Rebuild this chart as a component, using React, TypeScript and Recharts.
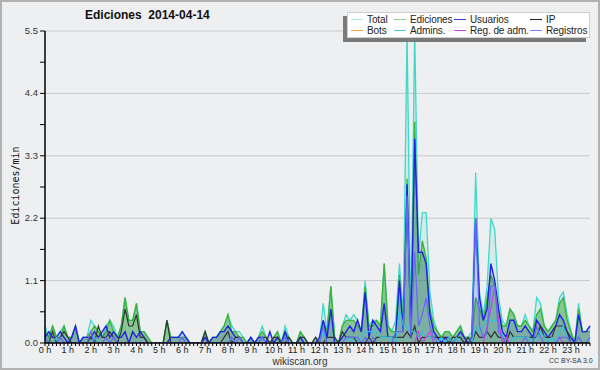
import { ComposedChart, Area, Line, XAxis, YAxis, CartesianGrid } from 'recharts';

// 10-minute slots, 144 per day
const HOUR_LABELS = [
  '0 h', '1 h', '2 h', '3 h', '4 h', '5 h', '6 h', '7 h', '8 h', '9 h', '10 h', '11 h',
  '12 h', '13 h', '14 h', '15 h', '16 h', '17 h', '18 h', '19 h', '20 h', '21 h', '22 h', '23 h',
];
const Y_TICKS = [0, 0.55, 1.1, 1.65, 2.2, 2.75, 3.3, 3.85, 4.4, 4.95, 5.5];
const Y_GRID = [1.1, 2.2, 3.3, 4.4, 5.5];

const total = [
  0.3, 0.1, 0.3, 0.1, 0.2, 0.3,
  0.1, 0.1, 0.3, 0.0, 0.1, 0.1,
  0.4, 0.3, 0.2, 0.1, 0.3, 0.4,
  0.3, 0.1, 0.3, 0.8, 0.4, 0.4,
  0.7, 0.2, 0.2, 0.1, 0.0, 0.0,
  0.0, 0.0, 0.4, 0.1, 0.1, 0.1,
  0.2, 0.1, 0.0, 0.0, 0.0, 0.0,
  0.2, 0.0, 0.1, 0.1, 0.2, 0.3,
  0.5, 0.3, 0.2, 0.2, 0.1, 0.0,
  0.1, 0.0, 0.1, 0.3, 0.1, 0.0,
  0.1, 0.2, 0.0, 0.3, 0.1, 0.0,
  0.0, 0.2, 0.1, 0.0, 0.0, 0.1,
  0.0, 0.7, 0.2, 1.0, 0.1, 0.0,
  0.3, 0.5, 0.4, 0.5, 0.4, 0.2,
  1.1, 0.3, 0.4, 0.4, 0.3, 1.4,
  0.3, 0.2, 0.4, 1.4, 0.5, 5.5,
  0.3, 5.5, 1.5, 2.3, 2.3, 0.9,
  0.4, 0.2, 0.1, 0.2, 0.2, 0.1,
  0.2, 0.3, 0.1, 0.1, 0.2, 3.0,
  0.9, 0.5, 1.0, 2.2, 2.0, 0.8,
  0.4, 0.3, 0.6, 0.5, 0.3, 0.3,
  0.5, 0.3, 0.2, 0.8, 0.7, 0.3,
  0.2, 0.3, 0.4, 0.8, 0.9, 0.5,
  0.2, 0.0, 0.7, 0.2, 0.2, 0.3,
];

const ediciones = [
  0.2, 0.1, 0.3, 0.1, 0.1, 0.3,
  0.1, 0.1, 0.3, 0.0, 0.1, 0.1,
  0.2, 0.3, 0.2, 0.1, 0.2, 0.4,
  0.2, 0.1, 0.3, 0.8, 0.4, 0.4,
  0.7, 0.2, 0.2, 0.1, 0.0, 0.0,
  0.0, 0.0, 0.4, 0.1, 0.1, 0.1,
  0.1, 0.1, 0.0, 0.0, 0.0, 0.0,
  0.2, 0.0, 0.1, 0.1, 0.2, 0.3,
  0.5, 0.2, 0.2, 0.1, 0.1, 0.0,
  0.1, 0.0, 0.1, 0.2, 0.1, 0.0,
  0.1, 0.2, 0.0, 0.2, 0.1, 0.0,
  0.0, 0.2, 0.1, 0.0, 0.0, 0.1,
  0.0, 0.4, 0.2, 1.0, 0.1, 0.0,
  0.3, 0.4, 0.4, 0.4, 0.3, 0.2,
  1.0, 0.3, 0.3, 0.4, 0.3, 1.4,
  0.3, 0.2, 0.2, 1.2, 0.3, 2.9,
  0.2, 3.9, 1.2, 1.8, 1.5, 0.6,
  0.3, 0.2, 0.1, 0.2, 0.2, 0.1,
  0.2, 0.3, 0.1, 0.1, 0.1, 0.8,
  0.6, 0.4, 0.8, 1.2, 1.0, 0.6,
  0.3, 0.3, 0.6, 0.5, 0.3, 0.3,
  0.4, 0.3, 0.2, 0.5, 0.6, 0.3,
  0.2, 0.3, 0.4, 0.7, 0.8, 0.4,
  0.2, 0.0, 0.6, 0.2, 0.2, 0.2,
];

const usuarios = [
  0.1, 0.2, 0.1, 0.1, 0.2, 0.1,
  0.0, 0.1, 0.3, 0.0, 0.1, 0.1,
  0.1, 0.2, 0.1, 0.2, 0.3, 0.1,
  0.2, 0.1, 0.1, 0.2, 0.0, 0.2,
  0.1, 0.2, 0.1, 0.0, 0.0, 0.0,
  0.0, 0.0, 0.0, 0.1, 0.1, 0.1,
  0.2, 0.1, 0.0, 0.0, 0.0, 0.0,
  0.1, 0.0, 0.1, 0.1, 0.2, 0.2,
  0.3, 0.2, 0.1, 0.1, 0.0, 0.0,
  0.1, 0.0, 0.1, 0.1, 0.0, 0.2,
  0.0, 0.1, 0.0, 0.2, 0.0, 0.0,
  0.0, 0.1, 0.0, 0.0, 0.0, 0.0,
  0.1, 0.4, 0.1, 0.6, 0.0, 0.0,
  0.1, 0.2, 0.3, 0.2, 0.4, 0.2,
  0.9, 0.1, 0.4, 0.3, 0.2, 0.7,
  0.1, 0.1, 0.1, 1.1, 0.2, 2.8,
  0.1, 3.6, 1.6, 1.6, 1.4, 0.5,
  0.2, 0.1, 0.0, 0.1, 0.1, 0.0,
  0.1, 0.2, 0.1, 0.0, 0.1, 2.2,
  0.8, 0.4, 0.6, 1.4, 1.1, 0.6,
  0.2, 0.1, 0.4, 0.4, 0.2, 0.2,
  0.3, 0.2, 0.1, 0.4, 0.3, 0.2,
  0.1, 0.2, 0.3, 0.5, 0.4, 0.2,
  0.1, 0.0, 0.5, 0.2, 0.2, 0.3,
];

const ip = [
  0.0, 0.0, 0.2, 0.0, 0.1, 0.2,
  0.1, 0.0, 0.0, 0.0, 0.0, 0.0,
  0.1, 0.0, 0.3, 0.1, 0.1, 0.2,
  0.1, 0.0, 0.2, 0.6, 0.3, 0.3,
  0.5, 0.1, 0.1, 0.0, 0.0, 0.0,
  0.0, 0.0, 0.4, 0.0, 0.0, 0.0,
  0.0, 0.0, 0.0, 0.0, 0.0, 0.0,
  0.2, 0.0, 0.0, 0.0, 0.0, 0.1,
  0.2, 0.0, 0.1, 0.1, 0.0, 0.0,
  0.0, 0.0, 0.0, 0.1, 0.1, 0.0,
  0.1, 0.1, 0.0, 0.0, 0.1, 0.0,
  0.0, 0.1, 0.1, 0.0, 0.0, 0.1,
  0.0, 0.0, 0.1, 0.1, 0.1, 0.0,
  0.2, 0.1, 0.1, 0.1, 0.0, 0.0,
  0.0, 0.1, 0.0, 0.1, 0.1, 0.1,
  0.1, 0.1, 0.1, 0.1, 0.1, 0.2,
  0.1, 0.3, 0.0, 0.1, 0.1, 0.1,
  0.1, 0.1, 0.1, 0.1, 0.0, 0.1,
  0.1, 0.1, 0.0, 0.1, 0.0, 0.2,
  0.1, 0.1, 0.2, 0.1, 0.2, 0.1,
  0.1, 0.0, 0.2, 0.1, 0.1, 0.1,
  0.1, 0.1, 0.1, 0.1, 0.3, 0.1,
  0.1, 0.1, 0.3, 0.3, 0.3, 0.2,
  0.0, 0.0, 0.1, 0.0, 0.0, 0.0,
];

const bots = [
  0, 0, 0, 0, 0, 0, 0, 0, 0, 0, 0, 0, 0, 0, 0, 0, 0, 0, 0, 0, 0, 0, 0, 0,
  0, 0, 0, 0, 0, 0, 0, 0, 0, 0, 0, 0, 0, 0, 0, 0, 0, 0, 0, 0, 0, 0, 0, 0,
  0, 0, 0, 0, 0, 0, 0, 0, 0, 0, 0, 0, 0, 0, 0, 0, 0, 0, 0, 0, 0, 0, 0, 0,
  0, 0, 0, 0, 0, 0, 0, 0, 0, 0, 0, 0, 0, 0, 0, 0, 0, 0, 0, 0, 0, 0, 0, 0,
  0, 0, 0, 0, 0, 0, 0, 0, 0, 0, 0, 0, 0, 0, 0, 0, 0, 0, 0, 0, 0, 0, 0, 0,
  0, 0, 0, 0, 0, 0, 0, 0, 0, 0, 0, 0, 0, 0, 0, 0, 0, 0, 0, 0, 0, 0, 0, 0,
];

const admins = [
  0.1, 0.0, 0.0, 0.1, 0.0, 0.0,
  0.0, 0.0, 0.0, 0.0, 0.0, 0.0,
  0.0, 0.1, 0.0, 0.0, 0.0, 0.0,
  0.0, 0.0, 0.0, 0.0, 0.0, 0.0,
  0.0, 0.0, 0.0, 0.0, 0.0, 0.0,
  0.0, 0.0, 0.0, 0.0, 0.0, 0.0,
  0.0, 0.0, 0.0, 0.0, 0.0, 0.0,
  0.0, 0.0, 0.0, 0.0, 0.0, 0.0,
  0.0, 0.1, 0.0, 0.0, 0.0, 0.0,
  0.0, 0.0, 0.0, 0.1, 0.0, 0.0,
  0.0, 0.0, 0.0, 0.1, 0.0, 0.0,
  0.0, 0.0, 0.0, 0.0, 0.0, 0.0,
  0.0, 0.2, 0.0, 0.0, 0.0, 0.0,
  0.0, 0.0, 0.1, 0.0, 0.0, 0.1,
  0.2, 0.2, 0.2, 0.2, 0.1, 0.1,
  0.1, 0.1, 0.0, 0.6, 0.3, 0.3,
  0.2, 0.2, 0.1, 0.2, 0.1, 0.1,
  0.1, 0.0, 0.1, 0.0, 0.1, 0.0,
  0.1, 0.0, 0.0, 0.0, 0.0, 0.3,
  0.2, 0.3, 0.4, 0.4, 0.4, 0.4,
  0.1, 0.0, 0.0, 0.1, 0.1, 0.1,
  0.1, 0.1, 0.0, 0.1, 0.2, 0.1,
  0.0, 0.1, 0.0, 0.2, 0.3, 0.1,
  0.0, 0.0, 0.1, 0.0, 0.0, 0.1,
];

const regAdm = [
  0, 0, 0, 0, 0, 0, 0, 0, 0, 0, 0, 0, 0, 0, 0, 0, 0, 0, 0, 0, 0, 0, 0, 0,
  0, 0, 0, 0, 0, 0, 0, 0, 0, 0, 0, 0, 0, 0, 0, 0, 0, 0, 0, 0, 0, 0, 0, 0,
  0, 0, 0, 0, 0, 0, 0, 0, 0, 0, 0, 0, 0, 0, 0, 0, 0, 0, 0, 0, 0, 0, 0, 0,
  0, 0, 0, 0, 0, 0, 0, 0, 0, 0, 0, 0, 0, 0, 0, 0, 0, 0, 0, 0, 0, 0, 0, 0,
  0, 0, 0.2, 0, 0.1, 0.2, 0, 0, 0, 0, 0, 0, 0, 0, 0, 0, 0, 0, 0, 0, 0.3, 0.6, 1.0, 0.4,
  0, 0.1, 0, 0, 0, 0, 0, 0, 0, 0, 0, 0, 0, 0, 0, 0.1, 0, 0, 0, 0, 0, 0, 0, 0,
];

const registros = [
  0.1, 0.0, 0.0, 0.0, 0.1, 0.0,
  0.0, 0.0, 0.0, 0.0, 0.0, 0.0,
  0.2, 0.0, 0.0, 0.0, 0.1, 0.0,
  0.1, 0.0, 0.0, 0.0, 0.0, 0.0,
  0.0, 0.0, 0.0, 0.0, 0.0, 0.0,
  0.0, 0.0, 0.0, 0.0, 0.0, 0.0,
  0.1, 0.0, 0.0, 0.0, 0.0, 0.0,
  0.0, 0.0, 0.0, 0.0, 0.0, 0.0,
  0.0, 0.1, 0.0, 0.1, 0.0, 0.0,
  0.0, 0.0, 0.0, 0.1, 0.0, 0.0,
  0.0, 0.0, 0.0, 0.1, 0.0, 0.0,
  0.0, 0.0, 0.0, 0.0, 0.0, 0.0,
  0.0, 0.3, 0.0, 0.0, 0.0, 0.0,
  0.0, 0.1, 0.1, 0.1, 0.1, 0.0,
  0.1, 0.0, 0.1, 0.0, 0.0, 0.0,
  0.0, 0.0, 0.2, 0.2, 0.2, 2.6,
  0.1, 1.6, 0.3, 0.5, 0.8, 0.3,
  0.1, 0.0, 0.0, 0.0, 0.0, 0.0,
  0.0, 0.0, 0.0, 0.0, 0.1, 2.2,
  0.3, 0.1, 0.2, 1.0, 1.0, 0.2,
  0.1, 0.0, 0.0, 0.0, 0.0, 0.0,
  0.1, 0.0, 0.0, 0.3, 0.1, 0.0,
  0.0, 0.0, 0.0, 0.1, 0.1, 0.1,
  0.0, 0.0, 0.1, 0.0, 0.0, 0.1,
];

const data = total.map((v, i) => ({
  slot: i,
  total: v,
  ediciones: ediciones[i],
  usuarios: usuarios[i],
  ip: ip[i],
  bots: bots[i],
  admins: admins[i],
  regAdm: regAdm[i],
  registros: registros[i],
}));

const X_TICKS = data.map((d) => d.slot);

const LEGEND = [
  { name: 'Total', color: '#a8e8e0', left: 3, top: 0 },
  { name: 'Ediciones', color: '#88d088', left: 46, top: 0 },
  { name: 'Usuarios', color: '#3a3ae0', left: 106, top: 0 },
  { name: 'IP', color: '#222222', left: 182, top: 0 },
  { name: 'Bots', color: '#f0a040', left: 3, top: 11 },
  { name: 'Admins.', color: '#40c8e0', left: 46, top: 11 },
  { name: 'Reg. de adm.', color: '#c844e0', left: 106, top: 11 },
  { name: 'Registros', color: '#8080f0', left: 182, top: 11 },
];

const FONT = '"Liberation Sans", Arial, sans-serif';

const XTick = (props: any) => {
  const { x, y, payload } = props;
  if (payload.value % 6 !== 0) return null;
  return (
    <text x={x} y={y} dy={6} textAnchor="middle" fontSize={9} fill="#222" fontFamily={FONT}>
      {HOUR_LABELS[payload.value / 6]}
    </text>
  );
};

const YTick = (props: any) => {
  const { x, y, payload } = props;
  const r = payload.value / 1.1;
  if (Math.abs(r - Math.round(r)) > 1e-6) return null;
  return (
    <text x={x} y={y} dy={3} textAnchor="end" fontSize={9.5} fill="#333" fontFamily={FONT}>
      {payload.value.toFixed(1)}
    </text>
  );
};

export default function App() {
  return (
    <div style={{ position: 'relative', width: 600, height: 370, background: '#eeeff1', fontFamily: FONT }}>
      <style>{'body{margin:0}'}</style>
      <ComposedChart width={600} height={370} data={data} margin={{ top: 31, right: 10, left: 0, bottom: 0 }}>
        <CartesianGrid horizontal vertical={false} stroke="#c9c9cc" horizontalValues={Y_GRID} />
        <Area type="linear" dataKey="total" stroke="#40d8c8" strokeWidth={1.3} fill="#40d8c8" fillOpacity={0.14} isAnimationActive={false} dot={false} />
        <Area type="linear" dataKey="ediciones" stroke="#38b438" strokeWidth={1.3} fill="#2a9a2a" fillOpacity={0.45} isAnimationActive={false} dot={false} />
        <Area type="linear" dataKey="usuarios" stroke="#2020e8" strokeWidth={1.4} fill="#3030f0" fillOpacity={0.15} isAnimationActive={false} dot={false} />
        <Line type="linear" dataKey="bots" stroke="#f0a040" strokeWidth={1} dot={false} isAnimationActive={false} />
        <Line type="linear" dataKey="ip" stroke="#333333" strokeWidth={1.2} dot={false} isAnimationActive={false} />
        <Line type="linear" dataKey="admins" stroke="#30c4e0" strokeWidth={1.2} dot={false} isAnimationActive={false} />
        <Line type="linear" dataKey="regAdm" stroke="#c844e0" strokeWidth={1.2} dot={false} isAnimationActive={false} />
        <Line type="linear" dataKey="registros" stroke="#6868f8" strokeWidth={1.2} dot={false} isAnimationActive={false} />
        <XAxis
          dataKey="slot"
          type="number"
          domain={[0, 143]}
          ticks={X_TICKS}
          interval={0}
          height={27}
          tick={<XTick />}
          tickSize={3}
          tickMargin={1}
          axisLine={{ stroke: '#000', strokeWidth: 1.5 }}
          tickLine={{ stroke: '#000', strokeWidth: 1 }}
        />
        <YAxis
          type="number"
          domain={[0, 5.5]}
          ticks={Y_TICKS}
          interval={0}
          allowDataOverflow
          width={45}
          tick={<YTick />}
          tickSize={5}
          tickMargin={2}
          axisLine={{ stroke: '#000', strokeWidth: 1.5 }}
          tickLine={{ stroke: '#000', strokeWidth: 1 }}
        />
      </ComposedChart>

      <div style={{ position: 'absolute', left: 85, top: 8, fontSize: 12, fontWeight: 'bold', color: '#111', whiteSpace: 'pre' }}>
        {'Ediciones  2014-04-14'}
      </div>

      <div
        style={{
          position: 'absolute', left: -30, top: 180, width: 90, textAlign: 'center',
          transform: 'rotate(-90deg)', fontFamily: '"DejaVu Sans Mono", monospace', fontSize: 10, color: '#111',
        }}
      >
        Ediciones/min
      </div>

      <div
        style={{
          position: 'absolute', left: 347, top: 12, width: 243, height: 26, background: '#fff',
          border: '1px solid #cfcfcf', boxShadow: '-4px 4px 0 #7a7a7a', boxSizing: 'border-box',
        }}
      >
        {LEGEND.map((it) => (
          <div key={it.name} style={{ position: 'absolute', left: it.left, top: it.top, display: 'flex', alignItems: 'center', height: 12 }}>
            <div style={{ width: 12, height: 1, background: it.color, marginRight: 4 }} />
            <span style={{ fontSize: 10, letterSpacing: -0.1, color: '#222', whiteSpace: 'nowrap' }}>{it.name}</span>
          </div>
        ))}
      </div>

      <div style={{ position: 'absolute', left: 0, width: 600, top: 356, textAlign: 'center', fontSize: 10, color: '#333' }}>
        wikiscan.org
      </div>
      <div style={{ position: 'absolute', left: 549, top: 357, fontSize: 7, color: '#333' }}>CC BY-SA 3.0</div>
      <div style={{ position: 'absolute', inset: 0, boxShadow: 'inset 0 0 0 2px #b2b2b2', pointerEvents: 'none' }} />
    </div>
  );
}
